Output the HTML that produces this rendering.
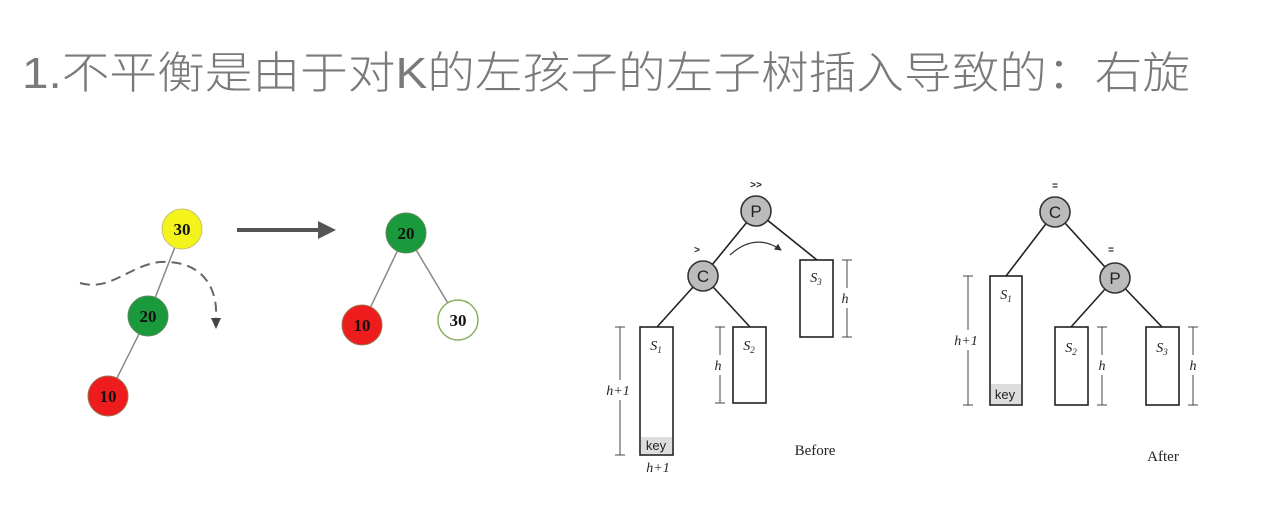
<!DOCTYPE html>
<html><head><meta charset="utf-8"><style>
html,body{margin:0;padding:0;background:#fff;}
svg{display:block;}
</style></head><body>
<svg width="1269" height="508" viewBox="0 0 1269 508" xmlns="http://www.w3.org/2000/svg">
<defs>
<marker id="ah2" markerWidth="7" markerHeight="7" refX="6" refY="3.5" orient="auto" markerUnits="userSpaceOnUse"><path d="M0,0 L7,3.5 L0,7 z" fill="#333"/></marker>
</defs>
<text x="22" y="88" font-family="Liberation Sans, Noto Sans CJK SC, sans-serif" font-size="44" font-weight="300" fill="#7a7a7a" textLength="1168" lengthAdjust="spacingAndGlyphs">1.不平衡是由于对K的左孩子的左子树插入导致的：右旋</text>

<!-- left tree -->
<g stroke="#888" stroke-width="1.5">
<line x1="182" y1="229" x2="148" y2="316"/><line x1="148" y1="316" x2="108" y2="396"/>
<line x1="406" y1="233" x2="362" y2="325"/><line x1="406" y1="233" x2="458" y2="320"/>
</g>
<path d="M80,283 C110,292 130,265 160,262 C200,260 218,285 216,318" fill="none" stroke="#666" stroke-width="2" stroke-dasharray="10,6"/>
<path d="M211,318 L221,318 L216,329 z" fill="#444"/>
<line x1="237" y1="230" x2="322" y2="230" stroke="#555" stroke-width="4"/>
<path d="M318,221 L336,230 L318,239 z" fill="#555"/>
<g font-family="Liberation Serif, serif" font-size="17" font-weight="bold" text-anchor="middle" fill="#111">
<circle cx="182" cy="229" r="20" fill="#f4f41c" stroke="#c8c070"/><text x="182" y="235">30</text>
<circle cx="148" cy="316" r="20" fill="#1a9a3c" stroke="#5a8a5a"/><text x="148" y="322">20</text>
<circle cx="108" cy="396" r="20" fill="#ee1c1c" stroke="#a07050"/><text x="108" y="402">10</text>
<circle cx="406" cy="233" r="20" fill="#1a9a3c" stroke="#5a8a5a"/><text x="406" y="239">20</text>
<circle cx="362" cy="325" r="20" fill="#ee1c1c" stroke="#a07050"/><text x="362" y="331">10</text>
<circle cx="458" cy="320" r="20" fill="#fff" stroke="#8ab060" stroke-width="1.5"/><text x="458" y="326">30</text>
</g>

<!-- Before -->
<g stroke="#222" stroke-width="1.6">
<line x1="756" y1="211" x2="703" y2="276"/><line x1="756" y1="211" x2="817" y2="260"/>
<line x1="703" y1="276" x2="657" y2="327"/><line x1="703" y1="276" x2="750" y2="327"/>
</g>
<path d="M730,255 Q755,232 781,250" fill="none" stroke="#333" stroke-width="1.2" marker-end="url(#ah2)"/>
<g stroke="#222" stroke-width="1.6" fill="#fff">
<rect x="800" y="260" width="33" height="77"/>
<rect x="640" y="327" width="33" height="128"/>
<rect x="733" y="327" width="33" height="76"/>
</g>
<rect x="641" y="437" width="31" height="17" fill="#ddd"/>
<g fill="#bbb" stroke="#333" stroke-width="1.6">
<circle cx="756" cy="211" r="15"/><circle cx="703" cy="276" r="15"/>
</g>
<g stroke="#444" stroke-width="1">
<line x1="620" y1="327" x2="620" y2="380"/><line x1="620" y1="400" x2="620" y2="455"/>
<line x1="615" y1="327" x2="625" y2="327"/><line x1="615" y1="455" x2="625" y2="455"/>
<line x1="720" y1="327" x2="720" y2="355"/><line x1="720" y1="375" x2="720" y2="403"/>
<line x1="715" y1="327" x2="725" y2="327"/><line x1="715" y1="403" x2="725" y2="403"/>
<line x1="847" y1="260" x2="847" y2="288"/><line x1="847" y1="308" x2="847" y2="337"/>
<line x1="842" y1="260" x2="852" y2="260"/><line x1="842" y1="337" x2="852" y2="337"/>
</g>

<!-- After -->
<g stroke="#222" stroke-width="1.6">
<line x1="1055" y1="212" x2="1006" y2="276"/><line x1="1055" y1="212" x2="1115" y2="278"/>
<line x1="1115" y1="278" x2="1071" y2="327"/><line x1="1115" y1="278" x2="1162" y2="327"/>
</g>
<g stroke="#222" stroke-width="1.6" fill="#fff">
<rect x="990" y="276" width="32" height="129"/>
<rect x="1055" y="327" width="33" height="78"/>
<rect x="1146" y="327" width="33" height="78"/>
</g>
<rect x="991" y="384" width="30" height="20" fill="#ddd"/>
<g fill="#bbb" stroke="#333" stroke-width="1.6">
<circle cx="1055" cy="212" r="15"/><circle cx="1115" cy="278" r="15"/>
</g>
<g stroke="#444" stroke-width="1">
<line x1="968" y1="276" x2="968" y2="330"/><line x1="968" y1="350" x2="968" y2="405"/>
<line x1="963" y1="276" x2="973" y2="276"/><line x1="963" y1="405" x2="973" y2="405"/>
<line x1="1102" y1="327" x2="1102" y2="355"/><line x1="1102" y1="375" x2="1102" y2="405"/>
<line x1="1097" y1="327" x2="1107" y2="327"/><line x1="1097" y1="405" x2="1107" y2="405"/>
<line x1="1193" y1="327" x2="1193" y2="355"/><line x1="1193" y1="375" x2="1193" y2="405"/>
<line x1="1188" y1="327" x2="1198" y2="327"/><line x1="1188" y1="405" x2="1198" y2="405"/>
</g>

<!-- labels on top -->
<g font-family="Liberation Sans, sans-serif" font-size="17" text-anchor="middle" fill="#222">
<text x="756" y="217">P</text><text x="703" y="282">C</text>
<text x="1055" y="218">C</text><text x="1115" y="284">P</text>
</g>
<g font-family="Liberation Sans, sans-serif" font-size="13" text-anchor="middle" fill="#222">
<text x="656" y="450">key</text><text x="1005" y="399">key</text>
</g>
<g font-family="Liberation Sans, sans-serif" font-size="10" font-weight="bold" text-anchor="middle" fill="#222">
<text x="756" y="188">&gt;&gt;</text><text x="697" y="253">&gt;</text>
<text x="1055" y="189">=</text><text x="1111" y="253">=</text>
</g>
<g font-family="Liberation Serif, serif" font-size="14" font-style="italic" text-anchor="middle" fill="#222">
<text x="618" y="395">h+1</text><text x="718" y="370">h</text><text x="845" y="303">h</text>
<text x="658" y="472">h+1</text>
<text x="656" y="350">S<tspan font-size="9" dy="3">1</tspan></text>
<text x="749" y="350">S<tspan font-size="9" dy="3">2</tspan></text>
<text x="816" y="282">S<tspan font-size="9" dy="3">3</tspan></text>
<text x="966" y="345">h+1</text><text x="1102" y="370">h</text><text x="1193" y="370">h</text>
<text x="1006" y="299">S<tspan font-size="9" dy="3">1</tspan></text>
<text x="1071" y="352">S<tspan font-size="9" dy="3">2</tspan></text>
<text x="1162" y="352">S<tspan font-size="9" dy="3">3</tspan></text>
</g>
<g font-family="Liberation Serif, serif" font-size="15" text-anchor="middle" fill="#222">
<text x="815" y="455">Before</text><text x="1163" y="461">After</text>
</g>
</svg>
</body></html>
